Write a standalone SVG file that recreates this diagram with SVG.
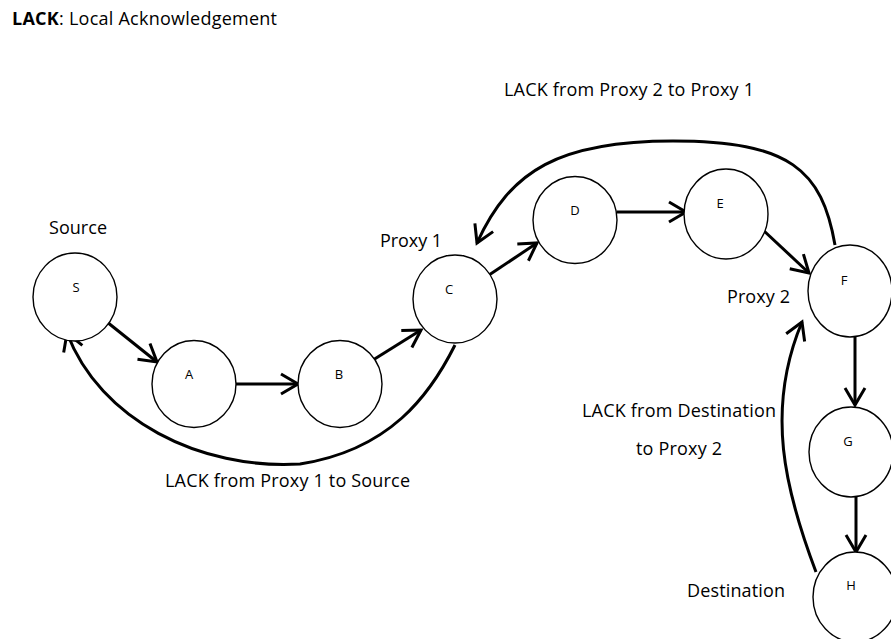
<svg xmlns="http://www.w3.org/2000/svg" width="891" height="639" viewBox="0 0 891 639">
  <style>
    .node { fill: #ffffff; stroke: #000000; stroke-width: 1.4; }
    .nlabel { font-family: "Open Sans", "Liberation Sans", sans-serif; font-size: 13px; fill: #000; text-anchor: middle; }
    .label { font-family: "Open Sans", "Liberation Sans", sans-serif; font-size: 18px; fill: #000; }
    .edge { fill: none; stroke: #000000; stroke-width: 3; marker-end: url(#open); }
  </style>
  <defs>
    <marker id="open" viewBox="0 0 22 24" refX="19" refY="12" markerWidth="22" markerHeight="24" markerUnits="userSpaceOnUse" orient="auto">
      <path d="M2,2 L19,12 L2,22" fill="none" stroke="#000" stroke-width="3" stroke-linejoin="miter"/>
    </marker>
  </defs>
  <rect width="891" height="639" fill="#ffffff"/>

  <!-- legend -->
  <text class="label" x="12" y="25" font-size="16" textLength="265" lengthAdjust="spacing"><tspan font-weight="bold">LACK</tspan>: Local Acknowledgement</text>

  <!-- role and acknowledgement labels -->
  <text class="label" x="49" y="234" textLength="58" lengthAdjust="spacing">Source</text>
  <text class="label" x="380" y="247" textLength="62" lengthAdjust="spacing">Proxy 1</text>
  <text class="label" x="727" y="303" textLength="63" lengthAdjust="spacing">Proxy 2</text>
  <text class="label" x="687" y="597" textLength="98" lengthAdjust="spacing">Destination</text>
  <text class="label" x="504" y="96" textLength="250" lengthAdjust="spacing">LACK from Proxy 2 to Proxy 1</text>
  <text class="label" x="165" y="487" textLength="245" lengthAdjust="spacing">LACK from Proxy 1 to Source</text>
  <text class="label" x="582" y="417" textLength="194" lengthAdjust="spacing">LACK from Destination</text>
  <text class="label" x="636" y="455" textLength="86" lengthAdjust="spacing">to Proxy 2</text>

  <!-- connectors -->
  <g id="connectors">
    <line class="edge" x1="107" y1="322" x2="157" y2="362"/>
    <line class="edge" x1="236" y1="384" x2="298" y2="384"/>
    <line class="edge" x1="373" y1="360" x2="421" y2="330"/>
    <line class="edge" x1="489" y1="275" x2="537" y2="243"/>
    <line class="edge" x1="617" y1="212" x2="686" y2="212"/>
    <line class="edge" x1="763" y1="230" x2="809" y2="273"/>
    <line class="edge" x1="855" y1="337" x2="855" y2="405"/>
    <line class="edge" x1="856" y1="497" x2="856" y2="552"/>
    <!-- acknowledgement paths -->
    <path class="edge" d="M455,345 C430,395 390,450 300,464 C200,470 100,420 67,333"/>
    <path class="edge" d="M835,245 C822,170 790,141 673,141 C560,141 510,170 477,243"/>
    <path class="edge" d="M816,572 C785,490 765,410 802,322"/>
  </g>

  <!-- nodes -->
  <g id="node-S"><ellipse class="node" cx="75" cy="297" rx="42" ry="44"/><text class="nlabel" x="76" y="292">S</text></g>
  <g id="node-A"><ellipse class="node" cx="194" cy="384" rx="42" ry="43.5"/><text class="nlabel" x="189" y="379">A</text></g>
  <g id="node-B"><ellipse class="node" cx="340" cy="384" rx="42" ry="43.5"/><text class="nlabel" x="339" y="379">B</text></g>
  <g id="node-C"><ellipse class="node" cx="455" cy="299" rx="42" ry="44"/><text class="nlabel" x="449" y="294">C</text></g>
  <g id="node-D"><ellipse class="node" cx="575" cy="220" rx="42" ry="43.5"/><text class="nlabel" x="575" y="215">D</text></g>
  <g id="node-E"><ellipse class="node" cx="726" cy="214" rx="42" ry="45"/><text class="nlabel" x="720" y="208">E</text></g>
  <g id="node-F"><ellipse class="node" cx="850" cy="291" rx="42" ry="46"/><text class="nlabel" x="844" y="285">F</text></g>
  <g id="node-G"><ellipse class="node" cx="851" cy="452" rx="42" ry="45"/><text class="nlabel" x="848" y="446">G</text></g>
  <g id="node-H"><ellipse class="node" cx="855" cy="597" rx="42" ry="45"/><text class="nlabel" x="851" y="590">H</text></g>
</svg>
